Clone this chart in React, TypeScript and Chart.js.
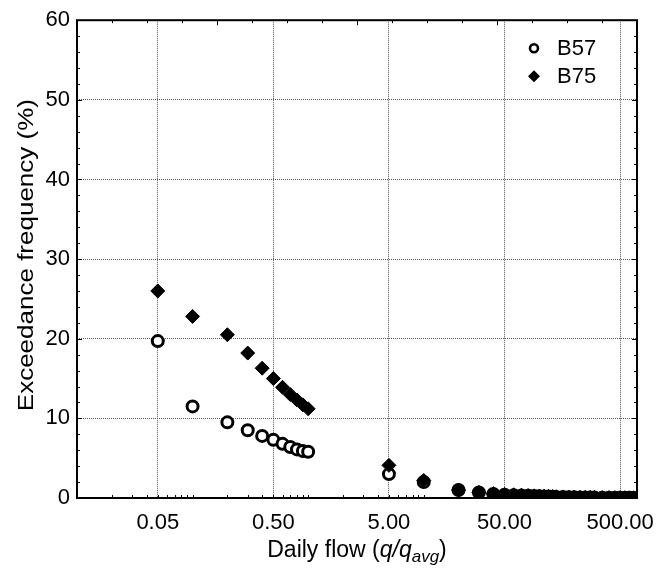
import React, { useEffect, useRef } from 'react';
import { Chart, registerables } from 'chart.js';

Chart.register(...registerables);

// ---- data ----
const flowB57 = [0.05, 0.1, 0.2, 0.3, 0.4, 0.5, 0.6, 0.7, 0.8, 0.9, 1.0, 5, 10, 20, 30, 40, 50, 60, 70, 80, 90, 100, 110, 120, 130, 140, 160, 180, 200, 225, 250, 275, 300, 350, 400, 450, 500, 550, 600, 650, 700];
const freqB57 = [19.7, 11.5, 9.5, 8.5, 7.8, 7.3, 6.8, 6.4, 6.1, 5.9, 5.8, 3.0, 2.0, 1.0, 0.7, 0.5, 0.4, 0.35, 0.3, 0.28, 0.25, 0.22, 0.2, 0.18, 0.16, 0.14, 0.12, 0.1, 0.08, 0.07, 0.06, 0.05, 0.05, 0.04, 0.03, 0.03, 0.02, 0.02, 0.02, 0.01, 0.01];
const flowB75 = [0.05, 0.1, 0.2, 0.3, 0.4, 0.5, 0.6, 0.7, 0.8, 0.9, 1.0, 5, 10, 20, 30, 40, 50, 60, 70, 80, 90, 100, 110, 120, 130, 140, 160, 180, 200, 225, 250, 275, 300, 350, 400, 450, 500, 550, 600, 650, 700];
const freqB75 = [26.0, 22.8, 20.5, 18.2, 16.3, 15.0, 13.9, 13.0, 12.3, 11.7, 11.2, 4.1, 2.2, 1.0, 0.7, 0.55, 0.45, 0.4, 0.35, 0.3, 0.27, 0.24, 0.22, 0.2, 0.18, 0.16, 0.14, 0.12, 0.1, 0.09, 0.08, 0.07, 0.06, 0.05, 0.04, 0.03, 0.03, 0.02, 0.02, 0.02, 0.01];
const seriesNames = ['B57', 'B75'];
const xTickValues = [0.05, 0.5, 5, 50, 500];
const xMin = 0.01;
const xMax = 700;
const yMin = 0;
const yMax = 60;
const yStep = 10;
const yTitle = 'Exceedance frequency (%)';

const FONT = '"Liberation Sans", Arial, sans-serif';
const FS = 22;

const decorPlugin = {
  id: 'decor',
  afterDatasetsDraw(chart: any) {
    const { ctx, chartArea, scales } = chart;
    const { left, right, top, bottom } = chartArea;
    const x = scales.x;
    const y = scales.y;
    ctx.save();
    ctx.strokeStyle = '#000';
    ctx.lineWidth = 1;
    const seg = (x1: number, y1: number, x2: number, y2: number) => {
      ctx.beginPath();
      ctx.moveTo(x1, y1);
      ctx.lineTo(x2, y2);
      ctx.stroke();
    };
    // y minor ticks (left & right)
    for (let v = yMin; v <= yMax; v += 2) {
      const py = Math.round(y.getPixelForValue(v)) + 0.5;
      const len = v % yStep === 0 ? 5 : 3;
      seg(left, py, left + len, py);
      seg(right, py, right - len, py);
    }
    // bottom log minor ticks
    for (let e = -2; e <= 2; e++) {
      for (let n = 1; n <= 9; n++) {
        const v = n * Math.pow(10, e);
        if (v <= xMin || v >= xMax) continue;
        const px = Math.round(x.getPixelForValue(v)) + 0.5;
        seg(px, bottom, px, bottom - 3);
      }
    }
    // top ticks
    for (let k = 0; k <= 16; k++) {
      const px = Math.round(left + ((right - left) * k) / 16) + 0.5;
      const len = k % 4 === 0 ? 5 : 3;
      seg(px, top, px, top + len);
    }
    // frame
    ctx.lineWidth = 2;
    ctx.strokeRect(left, top, right - left, bottom - top);

    // legend
    const mx = right - 103;
    const ly = [top + 28, top + 56];
    ctx.lineWidth = 2.6;
    ctx.fillStyle = '#fff';
    ctx.beginPath();
    ctx.arc(mx, ly[0], 4, 0, Math.PI * 2);
    ctx.fill();
    ctx.stroke();
    ctx.fillStyle = '#000';
    ctx.beginPath();
    ctx.moveTo(mx - 6, ly[1]);
    ctx.lineTo(mx, ly[1] - 6);
    ctx.lineTo(mx + 6, ly[1]);
    ctx.lineTo(mx, ly[1] + 6);
    ctx.closePath();
    ctx.fill();
    ctx.font = `${FS}px ${FONT}`;
    ctx.textBaseline = 'middle';
    ctx.textAlign = 'left';
    ctx.fillText(seriesNames[0], mx + 23, ly[0] + 1);
    ctx.fillText(seriesNames[1], mx + 23, ly[1] + 1);

    // y title (tall glyphs, slightly condensed thickness)
    ctx.save();
    ctx.translate(27, (top + bottom) / 2 - 4);
    ctx.rotate(-Math.PI / 2);
    ctx.scale(1, 0.85);
    ctx.textAlign = 'center';
    ctx.textBaseline = 'middle';
    ctx.font = `26px ${FONT}`;
    ctx.fillText(yTitle, 0, 0);
    ctx.restore();

    // x title
    const XFS = 23;
    const parts = [
      { t: 'Daily flow', it: false, sub: false },
      { t: ' (', it: false, sub: false },
      { t: 'q/q', it: true, sub: false },
      { t: 'avg', it: true, sub: true },
      { t: ')', it: false, sub: false },
    ];
    const fontFor = (p: any) => `${p.it ? 'italic ' : ''}${p.sub ? Math.round(XFS * 0.72) : XFS}px ${FONT}`;
    let total = 0;
    for (const p of parts) {
      ctx.font = fontFor(p);
      total += ctx.measureText(p.t).width;
    }
    let cx = (left + right) / 2 - total / 2;
    const base = 557;
    ctx.textAlign = 'left';
    ctx.textBaseline = 'alphabetic';
    for (const p of parts) {
      ctx.font = fontFor(p);
      ctx.fillText(p.t, cx, p.sub ? base + 5 : base);
      cx += ctx.measureText(p.t).width;
    }
    ctx.restore();
  },
};

export default function App() {
  const ref = useRef<HTMLCanvasElement | null>(null);
  useEffect(() => {
    document.body.style.margin = '0';
    const canvas = ref.current;
    if (!canvas) return;
    const chart = new Chart(canvas, {
      type: 'scatter',
      data: {
        datasets: [
          {
            label: seriesNames[1],
            data: flowB75.map((f, i) => ({ x: f, y: freqB75[i] })),
            pointStyle: 'rectRot',
            pointRadius: 7,
            pointBorderWidth: 1,
            pointBackgroundColor: '#000',
            pointBorderColor: '#000',
            showLine: false,
          },
          {
            label: seriesNames[0],
            data: flowB57.map((f, i) => ({ x: f, y: freqB57[i] })),
            pointStyle: 'circle',
            pointRadius: 5.5,
            pointBorderWidth: 3,
            pointBackgroundColor: '#fff',
            pointBorderColor: '#000',
            showLine: false,
          },
        ],
      },
      options: {
        responsive: false,
        animation: false,
        events: [],
        layout: { padding: { left: 0, top: 19, right: 35, bottom: 0 } },
        plugins: { legend: { display: false }, tooltip: { enabled: false } },
        scales: {
          x: {
            type: 'logarithmic',
            min: xMin,
            max: xMax,
            afterBuildTicks: (s: any) => {
              s.ticks = xTickValues.map((v) => ({ value: v }));
            },
            afterFit: (s: any) => {
              s.height = 70;
            },
            grid: { color: '#555', lineWidth: 1, drawTicks: false },
            border: { display: false, dash: [1, 1] },
            ticks: {
              autoSkip: false,
              maxRotation: 0,
              padding: 12,
              color: '#000',
              font: { family: FONT, size: FS },
              callback: (v: any) => Number(v).toFixed(2),
            },
          },
          y: {
            type: 'linear',
            min: yMin,
            max: yMax,
            afterFit: (s: any) => {
              s.width = 77;
            },
            grid: { color: '#555', lineWidth: 1, drawTicks: false },
            border: { display: false, dash: [1, 1] },
            ticks: {
              stepSize: yStep,
              padding: 7,
              color: '#000',
              font: { family: FONT, size: FS },
            },
          },
        },
      },
      plugins: [decorPlugin],
    });
    return () => chart.destroy();
  }, []);
  return <canvas ref={ref} width={672} height={568} style={{ display: 'block' }} />;
}
